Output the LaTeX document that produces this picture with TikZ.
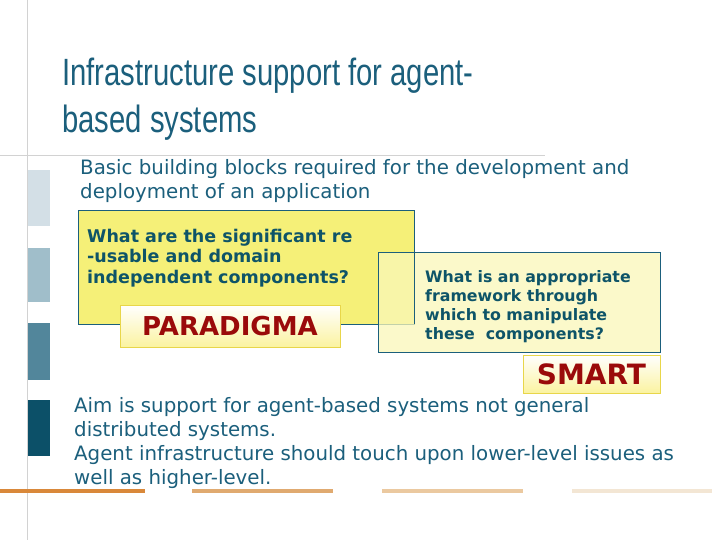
\documentclass[tikz,border=0pt]{standalone}
\usepackage{fontspec}
\setmainfont{DejaVu Sans}
\newfontfamily\titlefont{Liberation Sans}
\begin{document}
\begin{tikzpicture}[x=1pt,y=-1pt,
  body/.style={anchor=base west,inner sep=0pt,text=tealc,font=\fontsize{19.8}{23}\selectfont},
  qbox/.style={draw=tealc,line width=0.6pt},
  qtext/.style={anchor=base west,inner sep=0pt,text=qcol,font=\bfseries\fontsize{17.5}{20}\selectfont},
  rtext/.style={anchor=base west,inner sep=0pt,text=qcol,font=\bfseries\fontsize{15.8}{19}\selectfont},
  lbl/.style={draw=lblb,line width=0.8pt,top color=white,bottom color=lbly,text=lblr,inner sep=0pt}]
\definecolor{tealc}{HTML}{1B5F7C}
\definecolor{qcol}{HTML}{0E5468}
\definecolor{lblr}{HTML}{9A0A0A}
\definecolor{lblb}{HTML}{E8D64A}
\definecolor{lbly}{HTML}{FBF3A0}
\useasboundingbox[fill=white] (0,0) rectangle (720,540);
% frame lines
\draw[gray!35,line width=0.8pt] (27,0) -- (27,540);
\draw[gray!35,line width=0.8pt] (0,155) -- (545,155);
% left bars
\fill[fill={rgb,255:red,211;green,223;blue,230}] (28,170) rectangle (50,226);
\fill[fill={rgb,255:red,160;green,190;blue,202}] (28,248) rectangle (50,302);
\fill[fill={rgb,255:red,82;green,134;blue,155}] (28,323) rectangle (50,380);
\fill[fill={rgb,255:red,12;green,80;blue,104}] (28,400) rectangle (50,456);
% title
\node[anchor=base west,inner sep=0pt,text=tealc,font=\titlefont\fontsize{38}{40}\selectfont] (t1) at (62,86) {\scalebox{0.77}[1]{Infrastructure support for agent-}};
\node[anchor=base west,inner sep=0pt,text=tealc,font=\titlefont\fontsize{38}{40}\selectfont] (t2) at (62,133) {\scalebox{0.77}[1]{based systems}};
% intro
\node[body] (b1) at (80,175) {Basic building blocks required for the development and};
\node[body] (b2) at (80,199) {deployment of an application};
% boxes
\path[qbox,fill={rgb,255:red,245;green,240;blue,120}] (78,210) rectangle (414,324);
\path[qbox,fill={rgb,255:red,250;green,248;blue,185},fill opacity=0.75] (378,252) rectangle (660,352);
\draw[tealc,line width=0.6pt] (414,252) -- (414,324);
\node[qtext] (q1) at (87,242) {What are the significant re};
\node[qtext] (q2) at (87,262) {-usable and domain};
\node[qtext] (q3) at (87,283) {independent components?};
\node[rtext] (r1) at (425,282) {What is an appropriate};
\node[rtext] (r2) at (425,301) {framework through};
\node[rtext] (r3) at (425,320) {which to manipulate};
\node[rtext] (r4) at (425,339) {these~ components?};
\node[lbl,minimum width=220pt,minimum height=42pt,font=\bfseries\fontsize{26}{30}\selectfont] (p) at (230,326) {PARADIGMA};
\node[lbl,minimum width=137pt,minimum height=38pt,font=\bfseries\fontsize{28}{32}\selectfont] (s) at (591.5,374) {SMART};
% bottom text
\node[body] (a1) at (74,412) {Aim is support for agent-based systems not general};
\node[body] (a2) at (74,436) {distributed systems.};
\node[body] (a3) at (74,460) {Agent infrastructure should touch upon lower-level issues as};
\node[body] (a4) at (74,484) {well as higher-level.};
% orange lines
\fill[fill={rgb,255:red,217;green,136;blue,58}] (0,489) rectangle (145,493);
\fill[fill={rgb,255:red,224;green,170;blue,112}] (192,489) rectangle (333,493);
\fill[fill={rgb,255:red,235;green,201;blue,160}] (382,489) rectangle (523,493);
\fill[fill={rgb,255:red,243;green,230;blue,212}] (572,489) rectangle (712,493);
\end{tikzpicture}
\end{document}
